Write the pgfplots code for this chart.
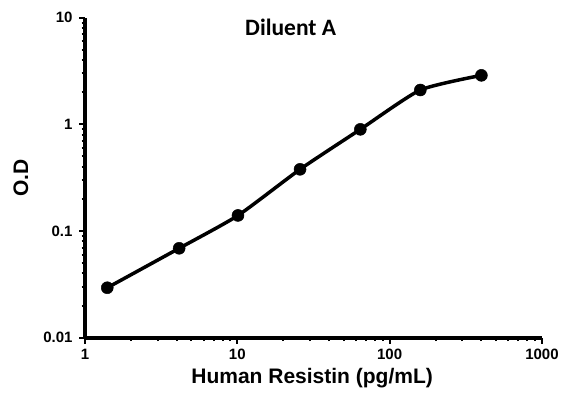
\documentclass[border=0pt]{standalone}
\usepackage{pgfplots}
\pgfplotsset{compat=1.18}
\usepackage{fontspec}
\setmainfont{Liberation Sans}
\newfontfamily\titlefont{Carlito}
\newcommand{\tl}[1]{{\fontsize{15}{16}\selectfont\bfseries #1}}
\begin{document}
\begin{tikzpicture}
\begin{axis}[
  name=ax, at={(0,0)}, anchor=south west,
  scale only axis, width=457pt, height=320pt,
  xmode=log, ymode=log,
  xmin=1, xmax=1000, ymin=0.01, ymax=10,
  axis lines=left,
  axis line style={line width=4pt, -},
  tick align=outside,
  major tick length=6pt, minor tick length=3.5pt,
  every tick/.style={line width=2pt, black},
  xtick={1,10,100,1000}, xticklabels={\tl{1},\tl{10},\tl{100},\tl{1000}},
  ytick={0.01,0.1,1,10}, yticklabels={\tl{0.01},\tl{0.1},\tl{1},\tl{10}},
  minor xtick={2,3,4,5,6,7,8,9,20,30,40,50,60,70,80,90,200,300,400,500,600,700,800,900},
  minor ytick={0.02,0.03,0.04,0.05,0.06,0.07,0.08,0.09,0.2,0.3,0.4,0.5,0.6,0.7,0.8,0.9,2,3,4,5,6,7,8,9},
  xticklabel style={yshift=-2pt},
  yticklabel style={xshift=-3pt},
  xlabel={\textbf{Human Resistin (pg/mL)}},
  ylabel={\textbf{O.D}},
  label style={font=\bfseries\fontsize{21}{22}\selectfont},
  xlabel style={at={(axis description cs:0.497,-0.126)}, anchor=center},
  ylabel style={at={(axis description cs:-0.14,0.5)}, anchor=center},
  clip=false,
]
\addplot[black, line width=3.5pt, smooth, tension=0.35,
  mark=*, mark size=6pt, mark options={solid, fill=black, line width=0.5pt}]
  coordinates {
  (1.40,0.0294) (4.15,0.0689) (10.1,0.140) (25.8,0.379)
  (64.2,0.898) (159,2.10) (400,2.88)
  };
\node[font=\titlefont\bfseries\fontsize{23.5}{24}\selectfont, anchor=center]
  at (rel axis cs:0.45,0.97) {Diluent A};
\end{axis}
\path (ax.south west) ++(-85pt,-60.3pt) rectangle ++(579pt,398pt);
\end{tikzpicture}
\end{document}
